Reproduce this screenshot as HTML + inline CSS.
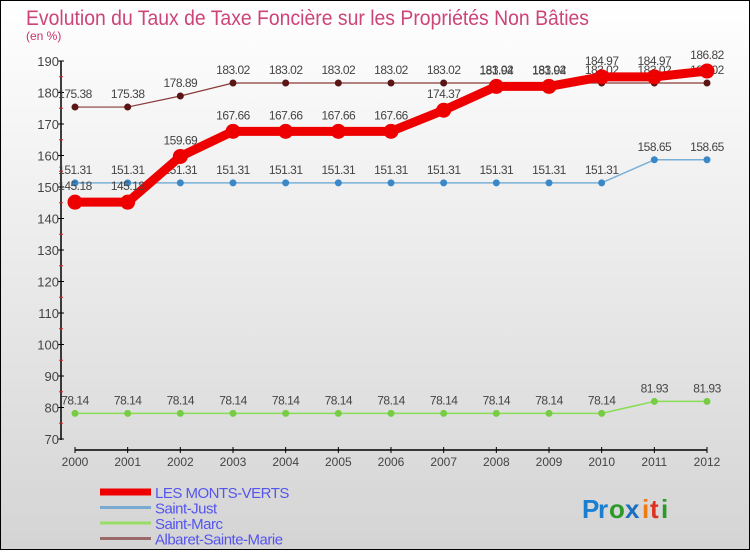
<!DOCTYPE html>
<html><head><meta charset="utf-8"><style>
html,body{margin:0;padding:0}
body{width:750px;height:550px;overflow:hidden;font-family:"Liberation Sans",sans-serif}
svg text{font-family:"Liberation Sans",sans-serif}
</style></head><body>
<svg id="chart" width="750" height="550" xmlns="http://www.w3.org/2000/svg">
<defs><linearGradient id="bg" x1="0" y1="0" x2="0" y2="1"><stop offset="0" stop-color="#ffffff"/><stop offset="1" stop-color="#d4d4d4"/></linearGradient></defs>
<rect x="0.5" y="0.5" width="749" height="549" fill="url(#bg)" stroke="#000"/>
<text x="26" y="25" font-size="21" fill="#c8306a" textLength="563" lengthAdjust="spacingAndGlyphs" opacity="0.9">Evolution du Taux de Taxe Foncière sur les Propriétés Non Bâties</text>
<text x="26" y="40" font-size="12" fill="#c8306a">(en %)</text>
<g id="axes"></g>
<g id="series"></g>
<g id="legend"></g>
<g font-size="26" font-weight="bold">
<text x="582" y="518" fill="#1a7fd0">P</text><text x="598" y="518" fill="#1a7fd0">r</text><text x="609" y="518" fill="#2a9a2a">o</text><text x="625" y="518" fill="#1a6fc0">x</text><text x="642" y="518" fill="#f07a10">i</text><text x="650" y="518" fill="#e03020">t</text><text x="661" y="518" fill="#2a9a2a">i</text>
</g>
</svg>
<script>
const years=[2000,2001,2002,2003,2004,2005,2006,2007,2008,2009,2010,2011,2012];
const yTicks=[70,80,90,100,110,120,130,140,150,160,170,180,190];
const montsVerts=[145.18,145.18,159.69,167.66,167.66,167.66,167.66,174.37,181.94,181.94,184.97,184.97,186.82];
const saintJust=[151.31,151.31,151.31,151.31,151.31,151.31,151.31,151.31,151.31,151.31,151.31,158.65,158.65];
const saintMarc=[78.14,78.14,78.14,78.14,78.14,78.14,78.14,78.14,78.14,78.14,78.14,81.93,81.93];
const albaret=[175.38,175.38,178.89,183.02,183.02,183.02,183.02,183.02,183.02,183.02,183.02,183.02,183.02];
const NS="http://www.w3.org/2000/svg";
const xS=i=>75+i*(707-75)/(years.length-1);
const yS=v=>439-(v-70)*(439-61)/120;
function mk(tag,attrs,parent){const e=document.createElementNS(NS,tag);for(const k in attrs)e.setAttribute(k,attrs[k]);parent.appendChild(e);return e;}
const ax=document.getElementById('axes');
let yl=mk('line',{x1:61,y1:61,x2:61,y2:440,stroke:'#000','stroke-width':1.5},ax);


yTicks.forEach((t,i)=>{
 const y=yS(t);
 let tk=mk('line',{x1:58,y1:y,x2:64,y2:y,stroke:'#000'},ax);
 
 
 let tx=mk('text',{x:59,y:y+5,'font-size':13,fill:'#444','text-anchor':'end'},ax);
 
 
 tx.textContent=t;
 if(i<yTicks.length-1){let m=mk('line',{x1:59,y1:yS(t+5),x2:63,y2:yS(t+5),stroke:'#e02020'},ax);
 
 }
});
let xl=mk('line',{x1:75,y1:450,x2:707,y2:450,stroke:'#000','stroke-width':1.5},ax);


years.forEach((yr,i)=>{
 const x=xS(i);
 let tk=mk('line',{x1:x,y1:447,x2:x,y2:453,stroke:'#000'},ax);
 
 
 let tx=mk('text',{x:x,y:466,'font-size':12,fill:'#444','text-anchor':'middle'},ax);
 
 
 tx.textContent=yr;
});
const sg=document.getElementById('series');
function drawSeries(vals,color,pcolor,w,r,name,labelOff){
 const g=mk('g',{},sg);
 
 
 const pts=vals.map((v,i)=>xS(i)+','+yS(v)).join(' ');
 mk('polyline',{points:pts,fill:'none',stroke:color,'stroke-width':w,'stroke-linejoin':'round'},g);
 vals.forEach((v,i)=>{
  let c=mk('circle',{cx:xS(i),cy:yS(v),r:r,fill:pcolor},g);
  
  
  let t=mk('text',{x:xS(i),y:yS(v)-labelOff,'font-size':12,fill:'#444','text-anchor':'middle','letter-spacing':'-0.5'},g);
  
  
  t.textContent=v.toFixed(2);
 });
}
drawSeries(saintMarc,'#88dd55','#77cc44',1.5,3.5,'saint-marc',9);
drawSeries(saintJust,'#7ab0d8','#3a88c8',1.5,3.5,'saint-just',9);
drawSeries(albaret,'#8a3a3a','#5a1515',1.2,3.5,'albaret-sainte-marie',9);
drawSeries(montsVerts,'#ee0000','#ee0000',9,7.5,'les-monts-verts',12);
const lg=document.getElementById('legend');
const legNames=['LES MONTS-VERTS','Saint-Just','Saint-Marc','Albaret-Sainte-Marie'];
const legColors=['#ee0000','#7aaad0','#99dd66','#9a6a6a'];
const legW=[7,3,3,3];
legNames.forEach((n,i)=>{
 const y=492+i*15.5;
 const g=mk('g',{},lg);
 
 
 mk('line',{x1:100,y1:y,x2:151,y2:y,stroke:legColors[i],'stroke-width':legW[i]},g);
 let t=mk('text',{x:155,y:y+6,'font-size':15,fill:'#5555ee','letter-spacing':'-0.5'},g);
 t.textContent=n;
});
</script>
</body></html>
